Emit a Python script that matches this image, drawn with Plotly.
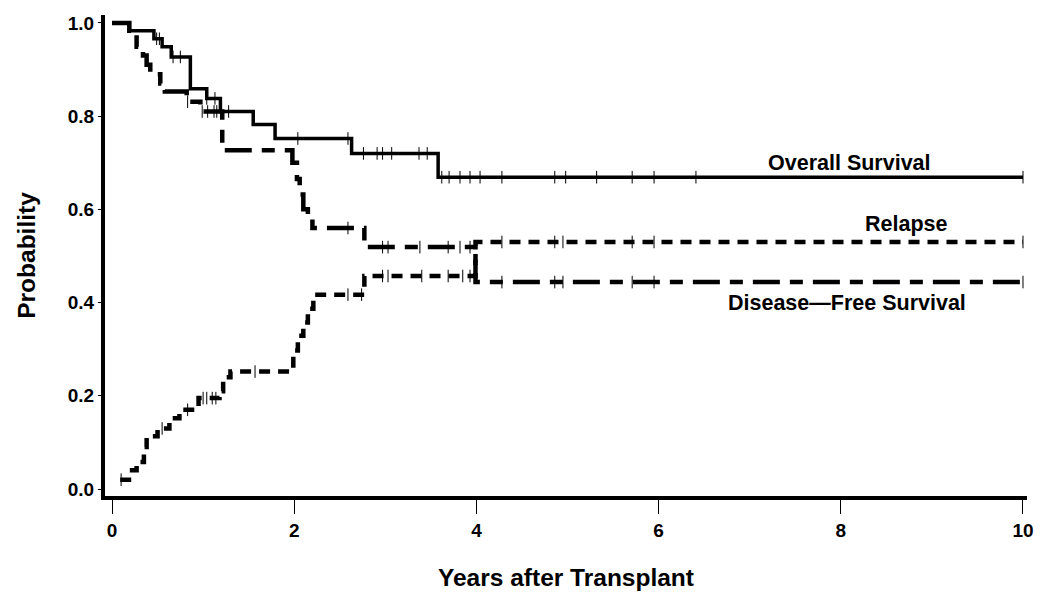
import numpy as np
import plotly.graph_objects as go

# ---------------- data ----------------
os_time = [0, 0.19, 0.46, 0.55, 0.65, 0.86, 1.04, 1.19, 1.55, 1.79, 2.63, 3.58, 10.0]
os_prob = [1.0, 0.983, 0.966, 0.949, 0.927, 0.859, 0.838, 0.810, 0.782, 0.752, 0.720, 0.669, 0.669]
os_censor = [0.49, 0.52, 0.67, 0.75, 1.04, 1.13, 1.28, 2.04, 2.59, 2.76, 2.91, 2.97, 3.07,
             3.37, 3.46, 3.62, 3.70, 3.82, 3.93, 4.04, 4.28, 4.86, 4.98, 5.32, 5.71,
             5.95, 6.41, 10.0]

dfs_time = [0, 0.19, 0.27, 0.34, 0.38, 0.42, 0.53, 0.58, 0.82, 0.97, 1.21, 1.98, 2.03,
            2.06, 2.10, 2.15, 2.20, 2.77, 3.99, 10.0]
dfs_prob = [1.0, 0.983, 0.949, 0.93, 0.91, 0.89, 0.87, 0.853, 0.831, 0.810, 0.727, 0.70,
            0.665, 0.632, 0.60, 0.58, 0.560, 0.519, 0.444, 0.444]
dfs_censor = [0.83, 0.99, 1.05, 1.12, 1.15, 2.59, 2.97, 3.03, 3.38, 3.69, 3.82, 3.93,
              4.28, 4.86, 4.95, 5.71, 5.95, 10.0]

rel_time = [0.09, 0.22, 0.27, 0.35, 0.38, 0.50, 0.63, 0.74, 0.95, 1.18, 1.22, 1.30,
            1.95, 1.99, 2.04, 2.10, 2.15, 2.21, 2.77, 3.99, 10.0]
rel_prob = [0.02, 0.04, 0.058, 0.09, 0.113, 0.13, 0.152, 0.17, 0.195, 0.21, 0.24, 0.252,
            0.265, 0.297, 0.329, 0.357, 0.387, 0.417, 0.457, 0.530, 0.530]
rel_censor = [0.10, 0.55, 0.83, 1.00, 1.04, 1.10, 1.14, 1.57, 2.59, 2.74, 2.97, 3.03,
              3.40, 3.69, 3.85, 3.93, 4.28, 4.86, 4.95, 5.71, 5.95, 10.0]

labels = ["Overall Survival", "Relapse", "Disease\u2014Free Survival"]
label_x = [8.10, 8.72, 8.07]
label_y = [0.699, 0.568, 0.400]

x_ticks = [0, 2, 4, 6, 8, 10]
y_ticks = [0.0, 0.2, 0.4, 0.6, 0.8, 1.0]
y_ticktext = ["0.0", "0.2", "0.4", "0.6", "0.8", "1.0"]


def step_at(times, probs, t):
    idx = np.searchsorted(np.asarray(times), np.asarray(t), side="right") - 1
    idx = np.clip(idx, 0, len(probs) - 1)
    return [probs[i] for i in idx]


FONT = "Liberation Sans, Arial, sans-serif"
fig = go.Figure()

curves = [
    (os_time, os_prob, os_censor, "solid", 3.5),
    (dfs_time, dfs_prob, dfs_censor, "27px,10px,13px,10px", 4.5),
    (rel_time, rel_prob, rel_censor, "11px,8px", 4.5),
]
for t, p, c, dash, w in curves:
    fig.add_trace(go.Scatter(x=t, y=p, mode="lines", line=dict(shape="hv", color="black", width=w, dash=dash),
                             showlegend=False, hoverinfo="skip"))
    fig.add_trace(go.Scatter(x=c, y=step_at(t, p, c), mode="markers",
                             marker=dict(symbol="line-ns-open", size=9, color="black",
                                         line=dict(color="black", width=1)),
                             showlegend=False, hoverinfo="skip"))

for txt, ax_, ay_ in zip(labels, label_x, label_y):
    fig.add_annotation(x=ax_, y=ay_, text=txt, showarrow=False,
                       font=dict(family=FONT, size=21.5, color="black", weight="bold"))

# page body has an 8px margin, so the figure is sized / offset accordingly
fig.update_layout(
    width=1042, height=595,
    margin=dict(l=97, r=23, t=5, b=107),
    paper_bgcolor="white", plot_bgcolor="white",
    font=dict(family=FONT, color="black"),
)
fig.update_xaxes(range=[-0.077, 10.044], tickvals=x_ticks, ticktext=[str(v) for v in x_ticks],
                 showgrid=False, zeroline=False, showline=True, linecolor="black", linewidth=4,
                 ticks="outside", ticklen=14, tickwidth=1, tickcolor="black",
                 tickfont=dict(family=FONT, size=19, weight="bold"),
                 title=dict(text="Years after Transplant", standoff=30,
                            font=dict(family=FONT, size=24.5, weight="bold")))
fig.update_yaxes(range=[-0.015, 1.017], tickvals=y_ticks, ticktext=y_ticktext,
                 showgrid=False, zeroline=False, showline=True, linecolor="black", linewidth=4,
                 ticks="outside", ticklen=3, tickwidth=1, tickcolor="black",
                 tickfont=dict(family=FONT, size=19, weight="bold"),
                 title=dict(text="Probability", standoff=26,
                            font=dict(family=FONT, size=24.5, weight="bold")))

fig.write_html("out.html")
